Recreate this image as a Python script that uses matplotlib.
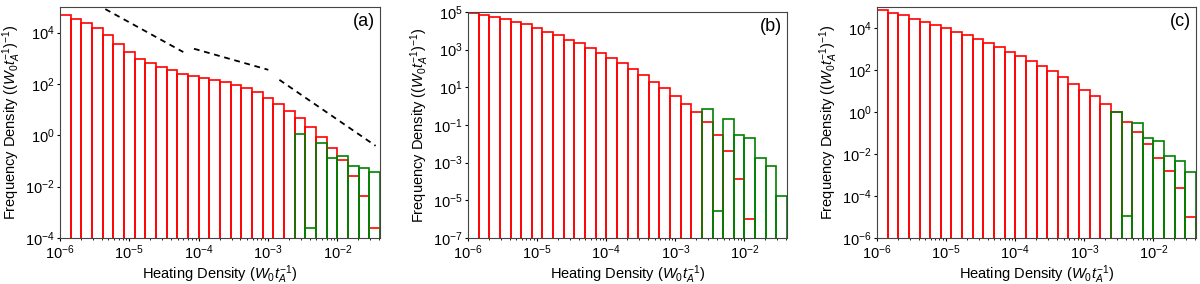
import numpy as np
import matplotlib
matplotlib.use("Agg")
import matplotlib.pyplot as plt

plt.rcParams['font.family'] = ['Liberation Sans', 'DejaVu Sans']
plt.rcParams['mathtext.fontset'] = 'custom'
plt.rcParams['mathtext.rm'] = 'Liberation Sans'
plt.rcParams['mathtext.it'] = 'Liberation Sans:italic'
plt.rcParams['mathtext.bf'] = 'Liberation Sans:bold'

# ---- data ----
heat_min = 1e-6
heat_max = 0.0412
n_bins = 30
green_start_bin = 22

# log10 of frequency density (red: all events, green: subset), per bin
red_a_log = [4.70, 4.53, 4.38, 4.17, 3.91, 3.57, 3.24, 2.98, 2.81, 2.66,
             2.53, 2.40, 2.32, 2.23, 2.16, 2.07, 1.97, 1.84, 1.68, 1.46,
             1.22, 0.96, 0.66, 0.34, -0.05, -0.48, -0.98, -1.58, -2.37, -3.61]
green_a_log = [0.05, -3.60, -0.31, -0.90, -0.81, -1.19, -1.29, -1.43]

red_b_log = [4.95, 4.82, 4.72, 4.61, 4.48, 4.34, 4.13, 3.95, 3.76, 3.53,
             3.33, 3.09, 2.84, 2.57, 2.27, 1.95, 1.63, 1.30, 0.94, 0.53,
             0.14, -0.30, -0.83, -1.51, -2.39, -3.88, -6.01, None, None, None]
green_b_log = [-0.16, -5.57, -0.69, -1.54, -1.68, -2.73, -3.16, -4.75]

red_c_log = [4.86, 4.73, 4.60, 4.44, 4.30, 4.16, 3.98, 3.83, 3.67, 3.48,
             3.30, 3.08, 2.87, 2.67, 2.41, 2.17, 1.94, 1.65, 1.33, 1.06,
             0.75, 0.40, 0.02, -0.46, -0.95, -1.54, -2.17, -2.79, -3.60, -5.02]
green_c_log = [-0.02, -4.94, -0.51, -1.25, -1.37, -2.10, -2.35, -2.84]

# dashed power-law guide lines in panel (a): (log10 x, log10 y) endpoints
guide_x_log = [(-6.0, -4.222), (-4.068, -2.996), (-2.836, -1.449)]
guide_y_log = [(5.89, 3.245), (3.374, 2.553), (2.162, -0.407)]

panel_labels = ['(a)', '(b)', '(c)']
ylims = [(1e-4, 1e5), (1e-7, 1e5), (1e-6, 1e5)]
ytick_exps = [[-4, -2, 0, 2, 4], [-7, -5, -3, -1, 1, 3, 5], [-6, -4, -2, 0, 2, 4]]

edges = np.logspace(np.log10(heat_min), np.log10(heat_max), n_bins + 1)
widths = np.diff(edges)

fig = plt.figure(figsize=(12, 2.84), dpi=100)
W, H = 1200, 284
boxes = [(60, 7, 380, 238), (468, 12, 787, 238), (877, 7, 1196, 238)]

reds = [red_a_log, red_b_log, red_c_log]
greens = [green_a_log, green_b_log, green_c_log]

for i in range(3):
    l, t, r, b = boxes[i]
    ax = fig.add_axes([l / W, 1 - b / H, (r - l) / W, (b - t) / H])
    ax.set_xscale('log')
    ax.set_yscale('log')
    rl = reds[i]
    idx = [k for k in range(n_bins) if rl[k] is not None]
    ax.bar(edges[:-1][idx], [10 ** rl[k] for k in idx], width=widths[idx],
           align='edge', fill=False, edgecolor='red', linewidth=1.2)
    g = greens[i]
    gi = np.arange(green_start_bin, n_bins)
    ax.bar(edges[:-1][gi], 10 ** np.array(g), width=widths[gi],
           align='edge', fill=False, edgecolor='green', linewidth=1.2)
    if i == 0:
        for xs, ys in zip(guide_x_log, guide_y_log):
            ax.plot(10 ** np.array(xs), 10 ** np.array(ys), color='k',
                    ls=(0, (3.2, 2.6)), lw=1.3)
    ax.set_xlim(heat_min, heat_max)
    ax.set_ylim(*ylims[i])
    ax.set_yticks([10.0 ** e for e in ytick_exps[i]])
    ax.set_xticks([1e-6, 1e-5, 1e-4, 1e-3, 1e-2])
    ax.tick_params(which='major', labelsize=10.5, length=2.5, pad=1.5)
    ax.tick_params(which='minor', length=1.5)
    ax.set_xlabel(r'Heating Density ($W_0t_A^{-1}$)', fontsize=10.5, labelpad=1)
    ax.set_ylabel(r'Frequency Density ($(W_0t_A^{-1})^{-1}$)', fontsize=10.5, labelpad=1)
    ax.text(0.985, 0.975, panel_labels[i], transform=ax.transAxes,
            ha='right', va='top', fontsize=13)
    for s in ax.spines.values():
        s.set_color('#444444')

fig.savefig('out.png', dpi=100)
